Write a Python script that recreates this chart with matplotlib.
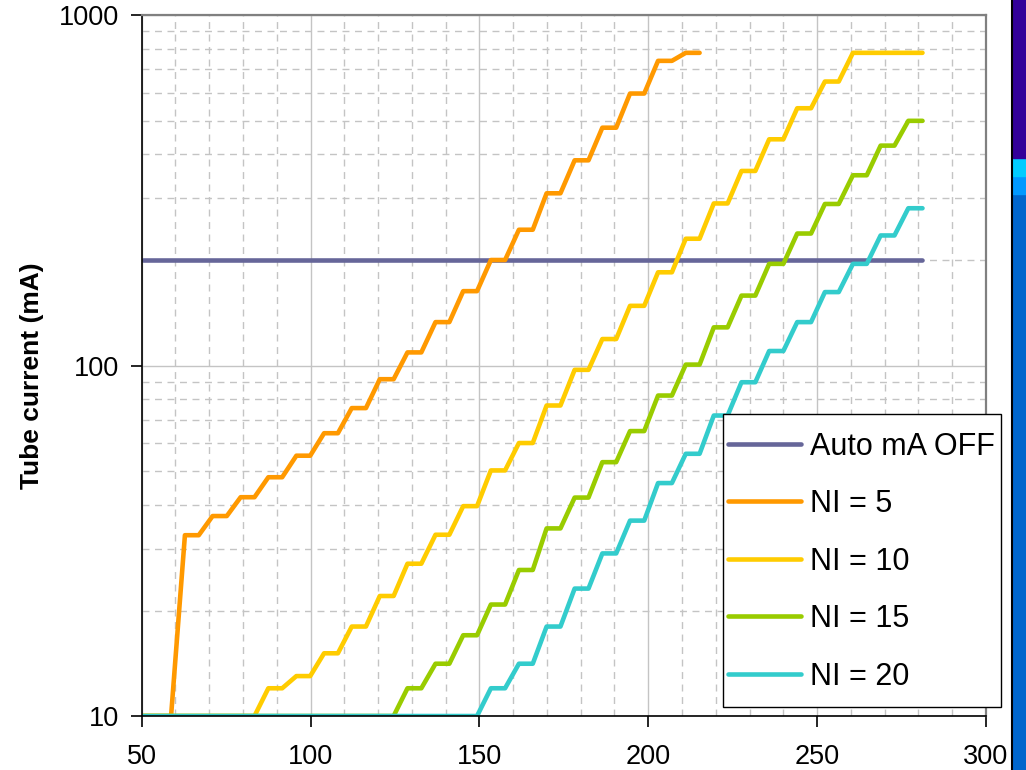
import matplotlib.pyplot as plt
from matplotlib.ticker import MultipleLocator, LogLocator, NullFormatter
from matplotlib.patches import Rectangle
from matplotlib.lines import Line2D

plt.rcParams['font.family'] = ['Liberation Sans', 'DejaVu Sans']

# x positions shared by all series
x = [50.4, 54.6, 58.7, 62.8, 66.9, 71.0, 75.2, 79.3, 83.4, 87.5,
     91.6, 95.8, 99.9, 104.0, 108.1, 112.2, 116.4, 120.5, 124.6, 128.7,
     132.8, 137.0, 141.1, 145.2, 149.3, 153.4, 157.6, 161.7, 165.8, 169.9,
     174.0, 178.2, 182.3, 186.4, 190.5, 194.6, 198.8, 202.9, 207.0, 211.1,
     215.2, 219.4, 223.5, 227.6, 231.7, 235.8, 240.0, 244.1, 248.2, 252.3,
     256.4, 260.6, 264.7, 268.8, 272.9, 277.0, 281.2]

ma_off = 200

ni_5 = [10, 10, 10, 32.8, 32.8, 37.2, 37.2, 42.1, 42.1, 48, 48,
        55.3, 55.3, 64.1, 64.1, 75.6, 75.6, 91.4, 91.4, 109, 109,
        133, 133, 163, 163, 200, 200, 244, 244, 310, 310, 385, 385,
        477, 477, 597, 597, 740, 740, 780, 780]

ni_10 = [10, 10, 10, 10, 10, 10, 10, 10, 10, 12, 12, 13, 13, 15.1, 15.1,
         18, 18, 22, 22, 27.2, 27.2, 32.9, 32.9, 39.7, 39.7, 50.2, 50.2,
         60.1, 60.1, 76.9, 76.9, 97.2, 97.2, 119, 119, 148, 148, 184.5, 184.5,
         230, 230, 290, 290, 359, 359, 442, 442, 542, 542, 646, 646,
         780, 780, 780, 780, 780, 780]

ni_15 = [10, 10, 10, 10, 10, 10, 10, 10, 10, 10, 10, 10, 10, 10, 10, 10, 10, 10, 10,
         12, 12, 14.1, 14.1, 17, 17, 20.8, 20.8, 26.1, 26.1, 34.3, 34.3,
         42, 42, 53, 53, 65, 65, 82.1, 82.1, 100.6, 100.6, 128.5, 128.5,
         158.3, 158.3, 195, 195, 238, 238, 289, 289, 349, 349, 424, 424, 499, 499]

ni_20 = [10, 10, 10, 10, 10, 10, 10, 10, 10, 10, 10, 10, 10, 10, 10, 10, 10, 10, 10,
         10, 10, 10, 10, 10, 10,
         12, 12, 14.1, 14.1, 18, 18, 23.1, 23.1, 29.1, 29.1, 36.1, 36.1,
         46.2, 46.2, 56, 56, 72, 72, 89.6, 89.6, 110, 110, 133, 133,
         162, 162, 195, 195, 235, 235, 281, 281]

fig = plt.figure(figsize=(10.26, 7.7), dpi=100)
ax = fig.add_axes([0.1381, 0.0701, 0.8229, 0.9104])

style = dict(lw=3.3, solid_capstyle='round', solid_joinstyle='round')
ax.plot(x, [ma_off] * len(x), color='#666699', label='Auto mA OFF', **style)
ax.plot(x[:len(ni_5)], ni_5, color='#FF9900', label='NI = 5', **style)
ax.plot(x, ni_10, color='#FFCC00', label='NI = 10', **style)
ax.plot(x, ni_15, color='#99CC00', label='NI = 15', **style)
ax.plot(x, ni_20, color='#33CCCC', label='NI = 20', **style)

ax.set_yscale('log')
ax.set_xlim(50, 300)
ax.set_ylim(10, 1000)
ax.set_xticks([50, 100, 150, 200, 250, 300])
ax.xaxis.set_minor_locator(MultipleLocator(10))
ax.set_yticks([10, 100, 1000], labels=['10', '100', '1000'])
ax.yaxis.set_minor_locator(LogLocator(base=10, subs=[2, 3, 4, 5, 6, 7, 8, 9]))
ax.yaxis.set_minor_formatter(NullFormatter())

ax.tick_params(which='major', length=8, width=1.2, color='black', labelsize=19.5)
ax.tick_params(axis='y', which='major', pad=8)
ax.tick_params(axis='x', which='major', pad=12)
ax.tick_params(which='minor', length=0)

# grid: solid at majors, dashed at minors
ax.set_axisbelow(True)
ax.grid(which='major', color='#c4c4c4', lw=1.0, ls='-')
ax.grid(which='minor', color='#c4c4c4', lw=1.0, ls=(0, (5, 4)))

ax.spines['left'].set_color('black')
ax.spines['bottom'].set_color('black')
ax.spines['left'].set_linewidth(1.2)
ax.spines['bottom'].set_linewidth(1.2)
ax.spines['top'].set_color('#808080')
ax.spines['right'].set_color('#808080')
ax.spines['top'].set_linewidth(1.6)
ax.spines['right'].set_linewidth(1.6)

ax.set_ylabel('Tube current (mA)', fontsize=19, fontweight='bold')
ax.yaxis.set_label_coords(-0.116, 0.485)

# legend box drawn separately so it can be a bit taller than the text rows
ax.add_patch(Rectangle((723 / 1026, 1 - 707 / 770), 278 / 1026, 293 / 770,
                       transform=fig.transFigure, facecolor='white',
                       edgecolor='black', lw=1.0, zorder=4, clip_on=False))
leg = ax.legend(loc='upper left', bbox_to_anchor=(723 / 1026, 1 - 427 / 770),
                bbox_transform=fig.transFigure, fontsize=22, frameon=False,
                handlelength=2.4, handletextpad=0.3, labelspacing=0.9,
                borderpad=0.15, borderaxespad=0)

# slide decoration on the right edge
fig.add_artist(Line2D([1012 / 1026, 1012 / 1026], [0, 1], color='black', lw=1.5,
                      transform=fig.transFigure))
fig.add_artist(Rectangle((1013 / 1026, 0), 13 / 1026, 0.748, color='#0066CC',
                         transform=fig.transFigure))
fig.add_artist(Rectangle((1013 / 1026, 0.748), 13 / 1026, 0.0234, color='#0099FF',
                         transform=fig.transFigure))
fig.add_artist(Rectangle((1013 / 1026, 0.7714), 13 / 1026, 0.0234, color='#00CCFF',
                         transform=fig.transFigure))
fig.add_artist(Rectangle((1013 / 1026, 0.7948), 13 / 1026, 0.2052, color='#330099',
                         transform=fig.transFigure))

fig.savefig('out.png', dpi=100)
